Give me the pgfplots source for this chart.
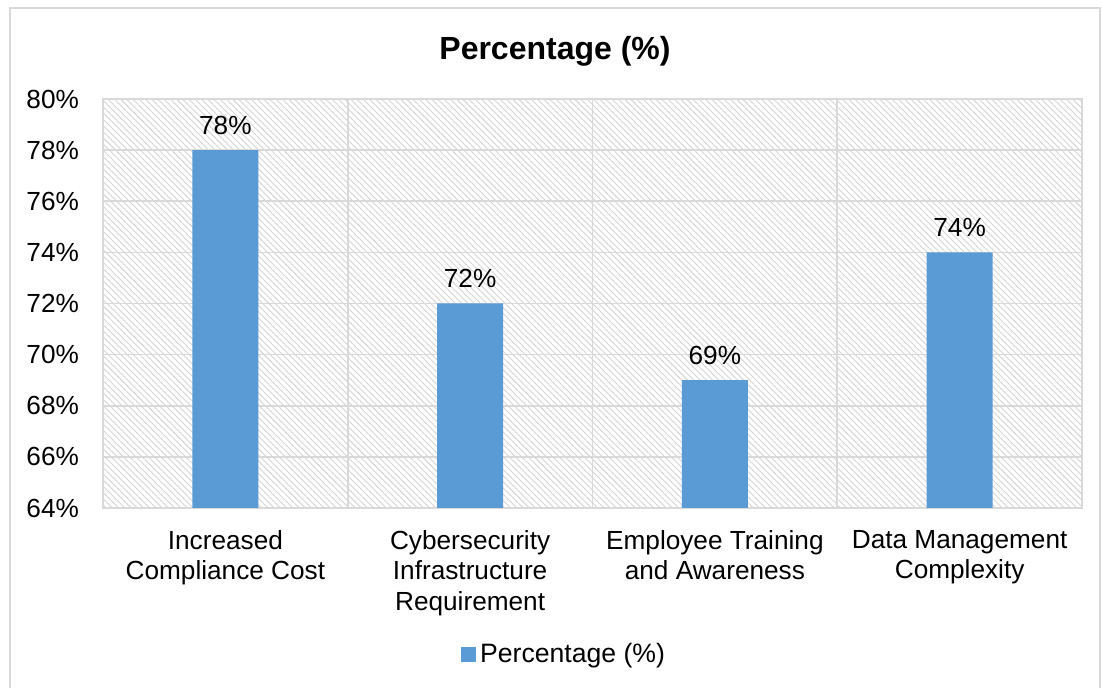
\documentclass[border=0pt]{standalone}
\usepackage{pgfplots}
\pgfplotsset{compat=1.18}
\usepackage{fontspec}
\setmainfont{Liberation Sans}
\usetikzlibrary{patterns.meta}
\definecolor{barblue}{HTML}{5B9BD5}
\definecolor{gridgray}{HTML}{D9D9D9}
\definecolor{hatchgray}{HTML}{D4D4D4}
\begin{document}
\begin{tikzpicture}
\useasboundingbox (-51.5pt,-90pt) rectangle (499.5pt,254pt);
\draw[gridgray, line width=0.9pt] (-46.5pt,-95pt) rectangle (498.5pt,250pt);
\begin{axis}[
  at={(0pt,0pt)}, anchor=south west,
  scale only axis, width=489.5pt, height=204.5pt,
  xmin=0.5, xmax=4.5, ymin=64, ymax=80,
  ybar, bar width=33pt,
  xtick={1,2,3,4},
  xticklabels={{Increased\\Compliance Cost},{Cybersecurity\\Infrastructure\\Requirement},{Employee Training\\and Awareness},{Data Management\\Complexity}},
  xticklabel style={align=center, font=\fontsize{13.1}{15.25}\selectfont, yshift=-7.5pt},
  minor xtick={1.5,2.5,3.5},
  ytick={64,66,...,80},
  yticklabel={\pgfmathprintnumber{\tick}\%},
  yticklabel style={font=\fontsize{13.1}{15}\selectfont, xshift=-8.5pt},
  /pgf/number format/assume math mode=true,
  major tick length=0pt, minor tick length=0pt,
  ymajorgrids, xminorgrids,
  grid style={draw=gridgray, line width=0.8pt},
  minor grid style={draw=gridgray, line width=0.8pt},
  axis line style={draw=gridgray, line width=0.8pt},
  axis background/.style={pattern={Lines[angle=-45,distance=2.2pt,line width=0.45pt]}, pattern color=hatchgray},
  nodes near coords={\pgfmathprintnumber{\pgfplotspointmeta}\%},
  every node near coord/.append style={anchor=center, yshift=12.5pt, font=\fontsize{13.1}{15}\selectfont, text=black},
  legend style={at={(0.472,-0.359)}, anchor=center, draw=none, fill=none, font=\fontsize{13.3}{15}\selectfont},
  legend image code/.code={\fill[barblue] (0pt,-3.6pt) rectangle (7.5pt,3.9pt);},
  clip=false,
]
\addplot[fill=barblue, draw=none] coordinates {(1,78) (2,72) (3,69) (4,74)};
\addlegendentry{Percentage (\%)}
\node[font=\bfseries\fontsize{16}{18}\selectfont] at (axis description cs:0.4617,1.117) {Percentage (\%)};
\end{axis}
\end{tikzpicture}
\end{document}
